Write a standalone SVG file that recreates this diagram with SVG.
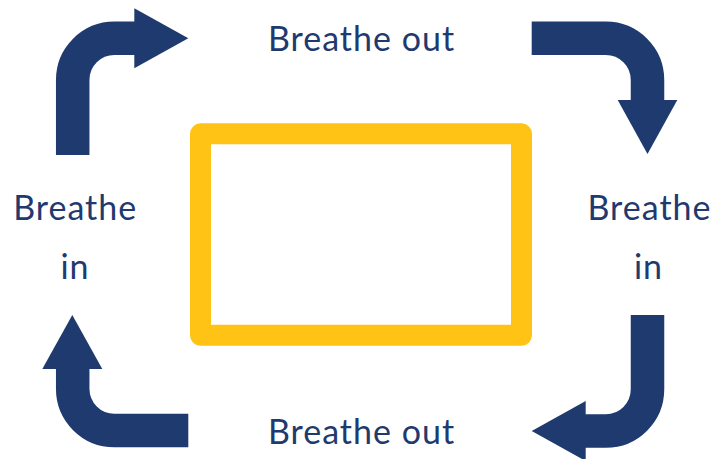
<svg xmlns="http://www.w3.org/2000/svg" width="721" height="459" viewBox="0 0 721 459">
<style>
.lbl{font-family:Lato,"Open Sans",sans-serif;font-size:34px;letter-spacing:1px;fill:#1F3A6E;text-anchor:middle}
.shaft{fill:none;stroke:#1F3A6E;stroke-width:33.5}
.head{fill:#1F3A6E}
</style>
<rect width="721" height="459" fill="#ffffff"/>
<g id="box">
<rect x="200.5" y="133.8" width="321" height="201.5" fill="#ffffff" stroke="#FEC314" stroke-width="21" stroke-linejoin="round"/>
</g>
<g id="label-top"><text class="lbl" x="361.5" y="51">Breathe out</text></g>
<g id="label-right"><text class="lbl" x="649.5" y="220">Breathe</text><text class="lbl" x="648.5" y="278.5">in</text></g>
<g id="label-bottom"><text class="lbl" x="361.5" y="444">Breathe out</text></g>
<g id="label-left"><text class="lbl" x="75.2" y="220">Breathe</text><text class="lbl" x="75" y="278.5">in</text></g>
<g id="connectors">
<path class="shaft" d="M72.7,155 V80 A41.7,41.7 0 0 1 114.4,38.3 H135"/>
<polygon class="head" points="134.3,8.3 188.3,38.3 134.3,68.3"/>
<path class="shaft" d="M531.7,38.3 H605.8 A41.7,41.7 0 0 1 647.5,80 V101"/>
<polygon class="head" points="617.7,100 677.3,100 647.5,154"/>
<path class="shaft" d="M647.5,315 V389.3 A41.7,41.7 0 0 1 605.8,431 H585"/>
<polygon class="head" points="585.7,401 585.7,461 531.7,431"/>
<path class="shaft" d="M188.3,430.5 H114.4 A41.7,41.7 0 0 1 72.7,388.8 V368"/>
<polygon class="head" points="42.3,369 102.3,369 72.3,315"/>
</g>
</svg>
